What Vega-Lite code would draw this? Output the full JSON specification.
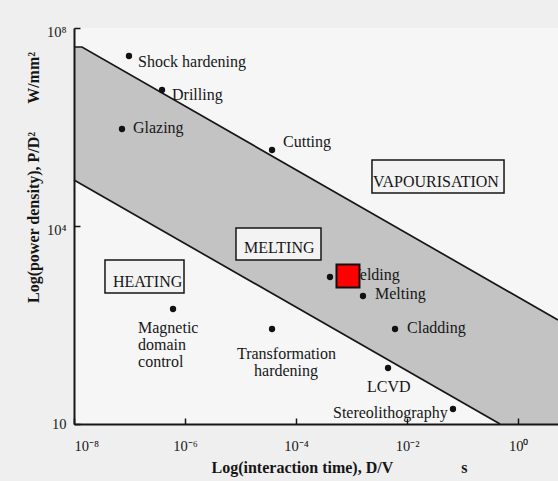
{
  "$schema": "https://vega.github.io/schema/vega-lite/v6.json",
  "width": 484,
  "height": 396,
  "autosize": {"type": "none"},
  "padding": {"left": 74, "top": 28, "right": 0, "bottom": 57},
  "background": "#efefef",
  "view": {"stroke": null, "fill": "#f6f6f6"},
  "config": {"font": "Liberation Serif"},
  "layer": [
    {
      "data": {"values": [
        {"logt": -8, "logp": 7.616},
        {"logt": -7.856, "logp": 7.616},
        {"logt": 0.716, "logp": 2.101}
      ]},
      "mark": {"type": "area", "color": "#c3c3c3", "opacity": 1, "line": {"color": "#161616", "strokeWidth": 1.7}},
      "encoding": {
        "x": {"field": "logt", "type": "quantitative",
          "scale": {"domain": [-8, 0.716], "nice": false, "zero": false},
          "axis": {
            "values": [-8, -6, -4, -2, 0],
            "labelExpr": "'10' + (datum.value == 0 ? '⁰' : '⁻' + (datum.value == -8 ? '⁸' : datum.value == -6 ? '⁶' : datum.value == -4 ? '⁴' : '²'))",
            "grid": false, "zindex": 1,
            "domainColor": "#161616", "domainWidth": 2,
            "tickColor": "#161616", "tickWidth": 1.5, "tickSize": -6,
            "labelFont": "Liberation Serif", "labelFontSize": 14.5, "labelColor": "#161616", "labelPadding": 21,
            "title": "Log(interaction time), D/V\u00a0\u00a0\u00a0\u00a0\u00a0\u00a0\u00a0\u00a0\u00a0\u00a0\u00a0\u00a0\u00a0\u00a0\u00a0\u00a0\u00a0s",
            "titleFont": "Liberation Serif", "titleFontSize": 16, "titleFontWeight": "bold", "titleColor": "#161616",
            "titleX": 265, "titleY": 43, "titleAlign": "center", "titleBaseline": "middle"
          }
        },
        "y": {"field": "logp", "type": "quantitative",
          "scale": {"domain": [0, 8], "nice": false, "zero": false},
          "axis": {
            "values": [0, 4, 8],
            "labelExpr": "datum.value == 8 ? '10⁸' : datum.value == 4 ? '10⁴' : '10'",
            "grid": false, "zindex": 1,
            "domainColor": "#161616", "domainWidth": 2,
            "tickColor": "#161616", "tickWidth": 1.5, "tickSize": -6,
            "labelFont": "Liberation Serif", "labelFontSize": 14.5, "labelColor": "#161616", "labelPadding": 14,
            "labelOffset": {"condition": {"test": "datum.value == 0", "value": 0}, "value": 4},
            "title": "Log(power density), P/D²\u00a0\u00a0\u00a0\u00a0\u00a0\u00a0\u00a0W/mm²",
            "titleFont": "Liberation Serif", "titleFontSize": 16, "titleFontWeight": "bold", "titleColor": "#161616",
            "titleX": -41, "titleY": 149, "titleAlign": "center", "titleBaseline": "middle", "titleAngle": -90
          }
        },
        "y2": {"datum": 0}
      }
    },
    {
      "data": {"values": [
        {"logt": -8, "logp": 4.929},
        {"logt": -0.328, "logp": 0}
      ]},
      "mark": {"type": "area", "color": "#f6f6f6", "opacity": 1, "line": {"color": "#161616", "strokeWidth": 1.7}},
      "encoding": {
        "x": {"field": "logt", "type": "quantitative"},
        "y": {"field": "logp", "type": "quantitative"},
        "y2": {"datum": 0}
      }
    },
    {
      "mark": {"type": "rule", "color": "#161616", "strokeWidth": 2},
      "encoding": {"y": {"datum": 8}}
    },
    {
      "data": {"values": [
        {"regime": "VAPOURISATION", "t1": -2.634, "t2": -0.256, "p1": 5.333, "p2": 4.667},
        {"regime": "MELTING", "t1": -5.083, "t2": -3.552, "p1": 3.96, "p2": 3.313},
        {"regime": "HEATING", "t1": -7.442, "t2": -6.019, "p1": 3.313, "p2": 2.646}
      ]},
      "mark": {"type": "rect", "fill": "#f3f3f3", "stroke": "#161616", "strokeWidth": 1.5},
      "encoding": {
        "x": {"field": "t1", "type": "quantitative"},
        "x2": {"field": "t2"},
        "y": {"field": "p1", "type": "quantitative"},
        "y2": {"field": "p2"}
      }
    },
    {
      "data": {"values": [
        {"process": "Shock hardening", "logt": -7.01, "logp": 7.434},
        {"process": "Drilling", "logt": -6.415, "logp": 6.747},
        {"process": "Glazing", "logt": -7.136, "logp": 5.96},
        {"process": "Cutting", "logt": -4.434, "logp": 5.535},
        {"process": "Welding", "logt": -3.39, "logp": 2.97},
        {"process": "Melting", "logt": -2.796, "logp": 2.586},
        {"process": "Cladding", "logt": -2.219, "logp": 1.919},
        {"process": "Transformation hardening", "logt": -4.434, "logp": 1.919},
        {"process": "Magnetic domain control", "logt": -6.217, "logp": 2.323},
        {"process": "LCVD", "logt": -2.345, "logp": 1.131},
        {"process": "Stereolithography", "logt": -1.175, "logp": 0.303}
      ]},
      "mark": {"type": "circle", "size": 40, "color": "#111111", "opacity": 1},
      "encoding": {
        "x": {"field": "logt", "type": "quantitative"},
        "y": {"field": "logp", "type": "quantitative"}
      }
    },
    {
      "data": {"values": [
        {"text": "Shock hardening", "logt": -6.847, "logp": 7.212},
        {"text": "Drilling", "logt": -6.235, "logp": 6.545},
        {"text": "Glazing", "logt": -6.938, "logp": 5.879},
        {"text": "Cutting", "logt": -4.236, "logp": 5.596},
        {"text": "VAPOURISATION", "logt": -2.616, "logp": 4.788},
        {"text": "MELTING", "logt": -4.939, "logp": 3.455},
        {"text": "HEATING", "logt": -7.298, "logp": 2.768},
        {"text": "Welding", "logt": -3.102, "logp": 2.909},
        {"text": "Melting", "logt": -2.58, "logp": 2.525},
        {"text": "Cladding", "logt": -2.003, "logp": 1.838},
        {"text": "Magnetic", "logt": -6.847, "logp": 1.838},
        {"text": "domain", "logt": -6.847, "logp": 1.495},
        {"text": "control", "logt": -6.847, "logp": 1.152},
        {"text": "Transformation", "logt": -5.065, "logp": 1.313},
        {"text": "hardening", "logt": -4.758, "logp": 0.97},
        {"text": "LCVD", "logt": -2.724, "logp": 0.646},
        {"text": "Stereolithography", "logt": -3.336, "logp": 0.121}
      ]},
      "mark": {"type": "text", "align": "left", "baseline": "alphabetic", "font": "Liberation Serif", "fontSize": 16, "color": "#161616"},
      "encoding": {
        "x": {"field": "logt", "type": "quantitative"},
        "y": {"field": "logp", "type": "quantitative"},
        "text": {"field": "text", "type": "nominal"}
      }
    },
    {
      "data": {"values": [{"logt": -3.066, "logp": 2.99}]},
      "mark": {"type": "square", "size": 529, "filled": true, "color": "#ff0000", "opacity": 1, "stroke": "#111111", "strokeWidth": 2},
      "encoding": {
        "x": {"field": "logt", "type": "quantitative"},
        "y": {"field": "logp", "type": "quantitative"}
      }
    }
  ]
}
